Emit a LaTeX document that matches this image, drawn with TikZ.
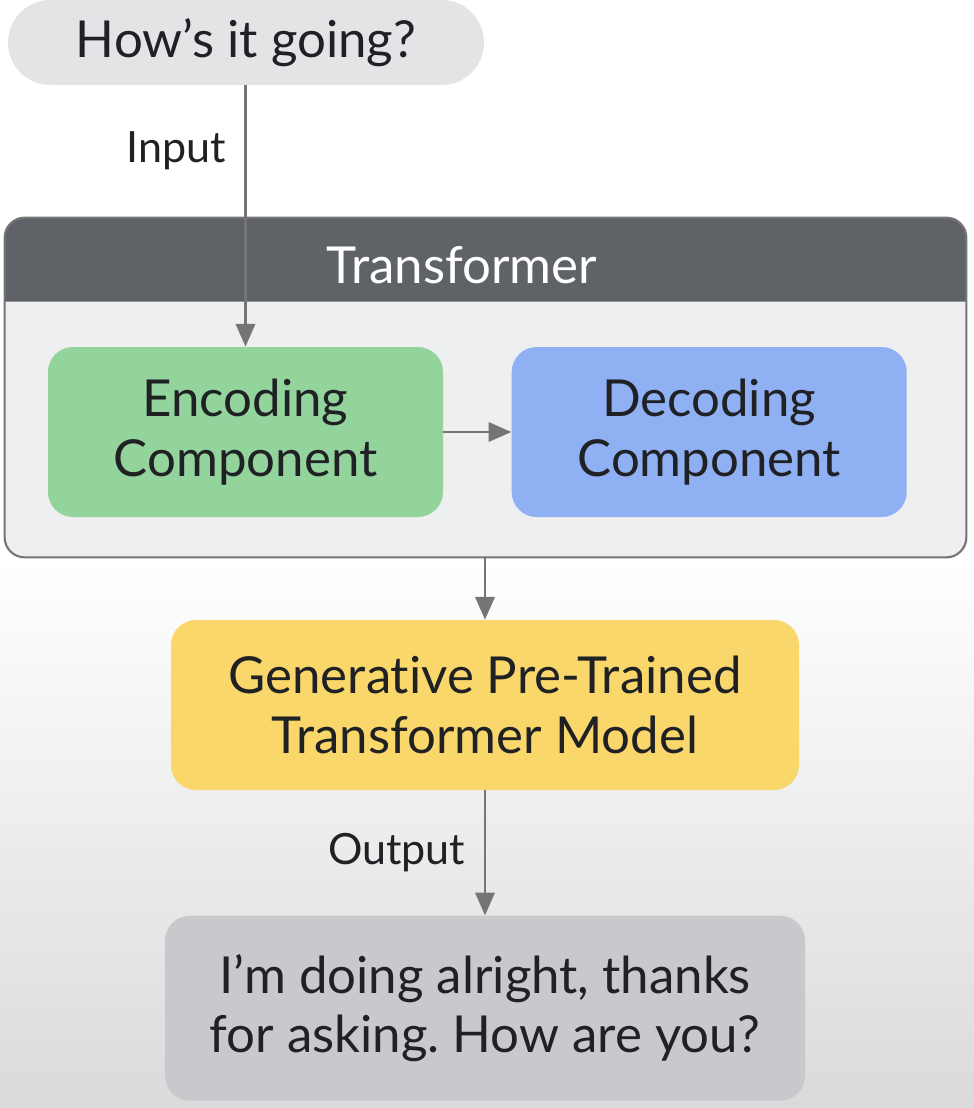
\documentclass[tikz,border=0pt]{standalone}
\usepackage{fontspec}
\setmainfont{Lato}[Ligatures=NoCommon]
\frenchspacing
\definecolor{bubblegray}{RGB}{227,228,230}
\definecolor{hdrgray}{RGB}{95,99,104}
\definecolor{bodygray}{RGB}{238,239,241}
\definecolor{encgreen}{RGB}{146,212,156}
\definecolor{decblue}{RGB}{143,176,242}
\definecolor{gptyellow}{RGB}{249,215,106}
\definecolor{replygray}{RGB}{200,201,204}
\definecolor{arrowgray}{RGB}{117,117,117}
\definecolor{inkblack}{RGB}{32,33,36}
\definecolor{bgbottom}{RGB}{218,218,218}
\usetikzlibrary{arrows.meta, positioning, calc}

\begin{document}
\begin{tikzpicture}[
  node distance=1.36cm,
  box/.style={rectangle, rounded corners=0.5cm, minimum width=7.9cm, minimum height=3.4cm, font=\fontsize{29}{34}\selectfont, align=center, text=inkblack, inner sep=0pt},
  lbl/.style={font=\fontsize{24.5}{28}\selectfont, text=inkblack},
  arr/.style={-{Triangle[length=13pt, width=11pt]}, line width=1.6pt, arrowgray}
]
  % background
  \useasboundingbox (0,0) rectangle (19.48,-22.16);
  \fill[white] (0,0) rectangle (19.48,-11.2);
  \shade[top color=white, bottom color=bgbottom] (0,-11.2) rectangle (19.48,-22.16);

  % transformer container
  \node[rectangle, rounded corners=0.4cm, fill=bodygray, minimum width=19.22cm, minimum height=6.78cm, inner sep=0pt] (trf) at (9.71,-7.75) {};
  \fill[hdrgray] ($(trf.north west)+(0,-1.68)$) [rounded corners=0.4cm] -- (trf.north west) -- (trf.north east) [sharp corners] -- ($(trf.north east)+(0,-1.68)$) -- cycle;
  \draw[rounded corners=0.4cm, draw=arrowgray, line width=1.2pt] (trf.north west) rectangle (trf.south east);
  \node[font=\fontsize{29}{34}\selectfont, text=white] (trftitle) at (9.24,-5.3) {Transformer};

  \node[box, fill=bubblegray, minimum width=9.52cm, minimum height=1.7cm, rounded corners=0.85cm] (ask) at (4.92,-0.85) {How’s it going?};
  \node[box, fill=encgreen] (enc) at (4.91,-8.64) {Encoding\\Component};
  \node[box, fill=decblue, right=of enc] (dec) {Decoding\\Component};
  \node[box, fill=gptyellow, minimum width=12.56cm] (gpt) at (9.7,-14.1) {Generative Pre-Trained\\Transformer Model};
  \node[box, fill=replygray, minimum width=12.8cm, minimum height=3.7cm, below=2.5cm of gpt] (reply) {I’m doing alright, thanks\\for asking. How are you?};

  \draw[arr] (ask.south -| enc.north) -- node[lbl, left=0.25cm, pos=0.25] {Input} (enc.north);
  \draw[arr] (enc) -- (dec);
  \draw[arr] (trf.south -| gpt.north) -- (gpt.north);
  \draw[arr] (gpt) -- node[lbl, left=0.25cm, pos=0.5] {Output} (reply);
\end{tikzpicture}
\end{document}
